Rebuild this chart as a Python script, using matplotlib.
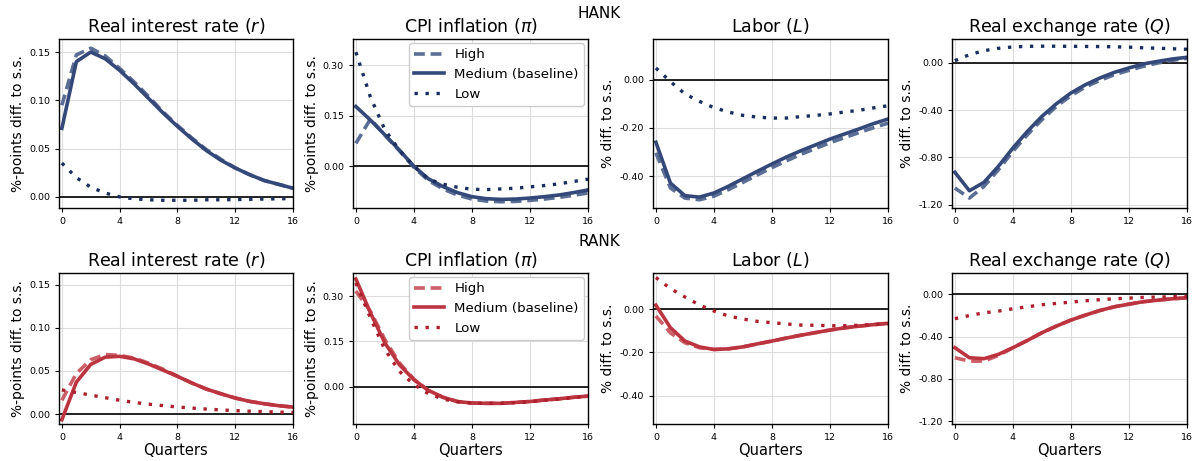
import numpy as np
import matplotlib
matplotlib.use("Agg")
import matplotlib.pyplot as plt
from matplotlib.ticker import FormatStrFormatter

quarters = np.arange(17)

# HANK impulse responses
hank_r_high = [0.095, 0.147, 0.154, 0.146, 0.133, 0.119, 0.104, 0.088, 0.074, 0.061, 0.049,
               0.039, 0.030, 0.023, 0.017, 0.013, 0.009]
hank_r_med = [0.071, 0.140, 0.150, 0.143, 0.131, 0.117, 0.102, 0.087, 0.073, 0.060, 0.048,
              0.038, 0.030, 0.023, 0.017, 0.013, 0.009]
hank_r_low = [0.035, 0.020, 0.010, 0.004, 0.000, -0.002, -0.003, -0.0035, -0.0035, -0.0035,
              -0.003, -0.003, -0.0028, -0.0025, -0.0022, -0.002, -0.0017]

hank_pi_high = [0.068, 0.140, 0.092, 0.046, -0.003, -0.042, -0.067, -0.085, -0.097, -0.103,
                -0.105, -0.104, -0.101, -0.097, -0.092, -0.086, -0.079]
hank_pi_med = [0.177, 0.137, 0.093, 0.048, 0.000, -0.037, -0.060, -0.078, -0.090, -0.096,
               -0.098, -0.097, -0.094, -0.090, -0.085, -0.078, -0.070]
hank_pi_low = [0.338, 0.205, 0.108, 0.048, 0.000, -0.038, -0.053, -0.062, -0.068, -0.069,
               -0.067, -0.065, -0.061, -0.057, -0.052, -0.045, -0.038]

hank_l_high = [-0.303, -0.448, -0.490, -0.497, -0.482, -0.455, -0.425, -0.394, -0.364, -0.336,
               -0.309, -0.285, -0.261, -0.240, -0.219, -0.199, -0.180]
hank_l_med = [-0.259, -0.428, -0.480, -0.486, -0.469, -0.441, -0.410, -0.379, -0.349, -0.320,
              -0.294, -0.270, -0.246, -0.225, -0.204, -0.182, -0.163]
hank_l_low = [0.048, -0.008, -0.059, -0.090, -0.116, -0.134, -0.148, -0.155, -0.159, -0.159,
              -0.153, -0.148, -0.142, -0.134, -0.127, -0.117, -0.108]

hank_q_high = [-1.059, -1.144, -1.045, -0.904, -0.748, -0.607, -0.480, -0.367, -0.277, -0.203,
               -0.147, -0.099, -0.062, -0.028, 0.000, 0.023, 0.040]
hank_q_med = [-0.926, -1.082, -1.011, -0.875, -0.720, -0.579, -0.452, -0.345, -0.254, -0.184,
              -0.127, -0.079, -0.042, -0.008, 0.014, 0.034, 0.048]
hank_q_low = [0.020, 0.070, 0.104, 0.124, 0.136, 0.141, 0.142, 0.142, 0.141, 0.140, 0.139,
              0.137, 0.134, 0.128, 0.125, 0.120, 0.116]

# RANK impulse responses
rank_r_high = [0.016, 0.047, 0.063, 0.069, 0.068, 0.065, 0.059, 0.052, 0.044, 0.036, 0.029,
               0.0236, 0.0186, 0.0147, 0.012, 0.0097, 0.0081]
rank_r_med = [-0.0066, 0.037, 0.0576, 0.066, 0.0669, 0.064, 0.058, 0.051, 0.0437, 0.036, 0.029,
              0.0236, 0.0186, 0.0147, 0.012, 0.0097, 0.0081]
rank_r_low = [0.028, 0.025, 0.022, 0.019, 0.016, 0.0135, 0.0115, 0.0098, 0.0082, 0.0070,
              0.0058, 0.0048, 0.0040, 0.0033, 0.0028, 0.0023, 0.0019]

rank_pi_high = [0.317, 0.250, 0.156, 0.079, 0.025, -0.013, -0.035, -0.049, -0.054, -0.055,
                -0.055, -0.052, -0.049, -0.044, -0.040, -0.035, -0.031]
rank_pi_med = [0.357, 0.245, 0.145, 0.073, 0.023, -0.012, -0.035, -0.049, -0.054, -0.055,
               -0.055, -0.052, -0.049, -0.044, -0.040, -0.035, -0.031]
rank_pi_low = [0.344, 0.228, 0.123, 0.051, 0.007, -0.023, -0.041, -0.050, -0.054, -0.055,
               -0.055, -0.053, -0.050, -0.045, -0.041, -0.036, -0.032]

rank_l_high = [-0.031, -0.109, -0.155, -0.178, -0.186, -0.183, -0.174, -0.160, -0.147, -0.133,
               -0.120, -0.108, -0.096, -0.086, -0.078, -0.071, -0.065]
rank_l_med = [0.019, -0.085, -0.147, -0.174, -0.186, -0.183, -0.174, -0.160, -0.147, -0.133,
              -0.120, -0.108, -0.096, -0.086, -0.078, -0.071, -0.065]
rank_l_low = [0.147, 0.096, 0.057, 0.020, -0.008, -0.031, -0.045, -0.056, -0.062, -0.068,
              -0.073, -0.074, -0.076, -0.076, -0.074, -0.071, -0.067]

rank_q_high = [-0.600, -0.632, -0.632, -0.578, -0.505, -0.436, -0.363, -0.300, -0.243, -0.196,
               -0.152, -0.117, -0.092, -0.069, -0.054, -0.041, -0.032]
rank_q_med = [-0.505, -0.600, -0.609, -0.568, -0.505, -0.436, -0.363, -0.300, -0.243, -0.196,
              -0.152, -0.117, -0.092, -0.069, -0.054, -0.041, -0.032]
rank_q_low = [-0.230, -0.200, -0.174, -0.158, -0.136, -0.117, -0.098, -0.085, -0.073, -0.060,
              -0.050, -0.041, -0.035, -0.028, -0.025, -0.022, -0.019]

titles = ["Real interest rate ($r$)", "CPI inflation ($\\pi$)", "Labor ($L$)",
          "Real exchange rate ($Q$)"]
ylabels = ["%-points diff. to s.s.", "%-points diff. to s.s.", "% diff. to s.s.",
           "% diff. to s.s."]
yticks = [[0.0, 0.05, 0.10, 0.15], [0.0, 0.15, 0.30], [-0.40, -0.20, 0.0],
          [-1.20, -0.80, -0.40, 0.0]]
ylims = [(-0.0115, 0.1635), (-0.1235, 0.377), (-0.531, 0.168), (-1.228, 0.203)]
labels = ["High", "Medium (baseline)", "Low"]

hank = [(hank_r_high, hank_r_med, hank_r_low), (hank_pi_high, hank_pi_med, hank_pi_low),
        (hank_l_high, hank_l_med, hank_l_low), (hank_q_high, hank_q_med, hank_q_low)]
rank = [(rank_r_high, rank_r_med, rank_r_low), (rank_pi_high, rank_pi_med, rank_pi_low),
        (rank_l_high, rank_l_med, rank_l_low), (rank_q_high, rank_q_med, rank_q_low)]

hank_colors = ["#5b6e96", "#34497a", "#1b2d5e"]
rank_colors = ["#cb5f67", "#bb3440", "#ad1f2d"]

W, H = 1198, 461
fig = plt.figure(figsize=(W / 100, H / 100), dpi=100)

cols = [(59, 293), (353, 588), (653, 888), (952, 1187)]
rows = [(39, 208), (273, 424)]


def draw_panel(ax, series, colors, j, bottom):
    high, med, low = series
    ax.grid(True, color="#dddddd", linewidth=0.8)
    ax.set_axisbelow(True)
    ax.axhline(0, color="black", linewidth=1.2, zorder=1)
    ax.plot(quarters, high, color=colors[0], linewidth=2.6, dashes=(3.0, 1.6), label=labels[0])
    ax.plot(quarters, med, color=colors[1], linewidth=2.6, label=labels[1])
    ax.plot(quarters, low, color=colors[2], linewidth=2.4, linestyle=(0, (1, 2.3)), label=labels[2])
    ax.set_xlim(-0.2, 16)
    ax.set_xticks([0, 4, 8, 12, 16])
    ax.set_ylim(*ylims[j])
    ax.set_yticks(yticks[j])
    ax.yaxis.set_major_formatter(FormatStrFormatter("%.2f"))
    ax.tick_params(labelsize=6.8, length=3, width=0.8)
    ax.set_title(titles[j], fontsize=12.5, pad=5)
    ax.set_ylabel(ylabels[j], fontsize=10, labelpad=3)
    for sp in ax.spines.values():
        sp.set_linewidth(1.0)
    if bottom:
        ax.set_xlabel("Quarters", fontsize=10.5, labelpad=1)
    if j == 1:
        ax.legend(loc="upper right", fontsize=9.6, handlelength=2.2, framealpha=1,
                  borderaxespad=0.3)


for i, (data, colors) in enumerate([(hank, hank_colors), (rank, rank_colors)]):
    top, bot = rows[i]
    for j, (l, r) in enumerate(cols):
        ax = fig.add_axes([l / W, 1 - bot / H, (r - l) / W, (bot - top) / H])
        draw_panel(ax, data[j], colors, j, bottom=(i == 1))

fig.text(0.5, 1 - 14 / H, "HANK", ha="center", va="center", fontsize=11)
fig.text(0.5, 1 - 241 / H, "RANK", ha="center", va="center", fontsize=11)

fig.savefig("out.png", dpi=100)
